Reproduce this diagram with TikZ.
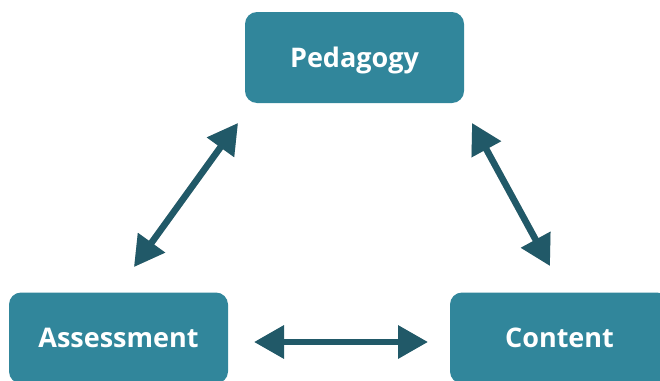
\documentclass[tikz,border=0pt]{standalone}
\usepackage{fontspec}
\setmainfont{Open Sans}
\usetikzlibrary{arrows.meta}
\definecolor{boxfill}{HTML}{31869B}
\definecolor{arrowcol}{HTML}{215968}
\definecolor{shadowcol}{HTML}{C8C8C8}
\begin{document}
\begin{tikzpicture}[x=1pt,y=-1pt,
  topic/.style={fill=boxfill, draw=none, rounded corners=12pt, minimum width=219pt, minimum height=91pt,
    inner sep=0pt, text=white, font=\fontsize{27}{31}\selectfont\bfseries, text height=19.5pt, text depth=0pt},
  link/.style={arrowcol, line width=6.5pt, {Triangle[length=30pt,width=32pt]}-{Triangle[length=30pt,width=32pt]}},
  linkshadow/.style={shadowcol, line width=6.5pt, {Triangle[length=30pt,width=32pt]}-{Triangle[length=30pt,width=32pt]}}]
\useasboundingbox (0,0) rectangle (660,380);
\node[topic] (ped) at (354.5,57.5) {Pedagogy};
\node[topic] (ass) at (118.5,338) {Assessment};
\node[topic] (con) at (559.5,338) {Content};
% arrow end points
\coordinate (a1) at (238,123);
\coordinate (a2) at (134,267);
\coordinate (b1) at (472,123);
\coordinate (b2) at (550,266);
\coordinate (c1) at (254,342);
\coordinate (c2) at (428,342);
% shadows
\begin{scope}[shift={(2.5,3.5)}]
\draw[linkshadow] (a1) -- (a2);
\draw[linkshadow] (b1) -- (b2);
\end{scope}
% arrows
\draw[link] (a1) -- (a2);
\draw[link] (b1) -- (b2);
\draw[link] (c1) -- (c2);
\end{tikzpicture}
\end{document}
